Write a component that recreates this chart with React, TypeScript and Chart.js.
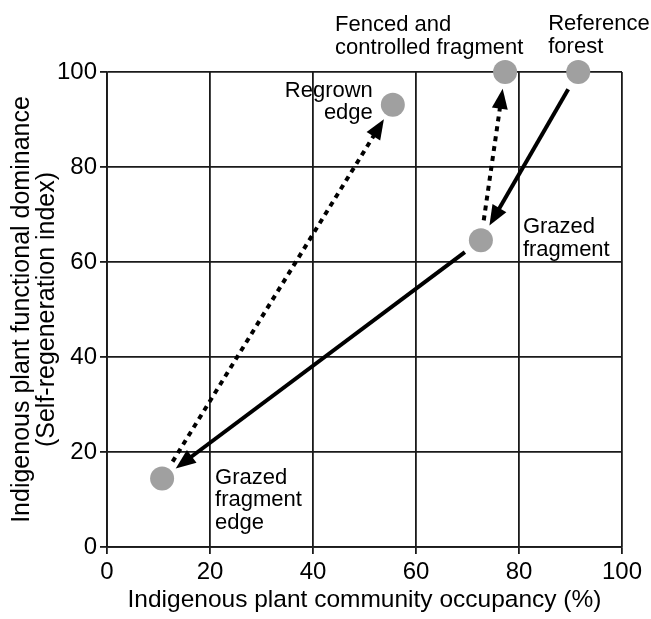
import { useEffect, useRef } from "react";
import { Chart, registerables } from "chart.js";

Chart.register(...registerables);

// ---- data ----
const pointNames = [
  "Reference forest",
  "Fenced and controlled fragment",
  "Regrown edge",
  "Grazed fragment",
  "Grazed fragment edge",
];
const occupancy = [91.5, 77.3, 55.5, 72.6, 10.7];
const dominance = [100, 100, 93.1, 64.6, 14.4];
const labelLines = [
  ["Reference", "forest"],
  ["Fenced and", "controlled fragment"],
  ["Regrown", "edge"],
  ["Grazed", "fragment"],
  ["Grazed", "fragment", "edge"],
];
const arrowFrom = [0, 3, 4, 3];
const arrowTo = [3, 4, 2, 1];
const arrowDashed = [false, false, true, true];
const xTickValues = [0, 20, 40, 60, 80, 100];
const yTickValues = [0, 20, 40, 60, 80, 100];
const xTitle = "Indigenous plant community occupancy (%)";
const yTitle = ["Indigenous plant functional dominance", "(Self-regeneration index)"];

// ---- styles ----
const FONT = "'Liberation Sans', Arial, Helvetica, sans-serif";
const GRID = "#1a1a1a";
const labelStyle = [
  { dx: -30, dy: -42, align: "left" },
  { dx: -170, dy: -41, align: "left" },
  { dx: -20, dy: -8, align: "right" },
  { dx: 42, dy: -7, align: "left" },
  { dx: 53, dy: 5, align: "left" },
];
const LABEL_LINE = 22.5;
const START_GAP = 20;
const END_GAP = 17;
const HEAD_LEN = 20;
const HEAD_HW = 8;

const overlay = {
  id: "overlay",
  afterDatasetsDraw(chart: any) {
    const ctx = chart.ctx;
    const xs = chart.scales.x;
    const ys = chart.scales.y;
    arrowFrom.forEach((f, i) => {
      const t = arrowTo[i];
      const x1 = xs.getPixelForValue(occupancy[f]);
      const y1 = ys.getPixelForValue(dominance[f]);
      const x2 = xs.getPixelForValue(occupancy[t]);
      const y2 = ys.getPixelForValue(dominance[t]);
      const dx = x2 - x1;
      const dy = y2 - y1;
      const len = Math.hypot(dx, dy);
      const ux = dx / len;
      const uy = dy / len;
      const sx = x1 + ux * START_GAP;
      const sy = y1 + uy * START_GAP;
      const tx = x2 - ux * END_GAP;
      const ty = y2 - uy * END_GAP;
      const bx = tx - ux * HEAD_LEN;
      const by = ty - uy * HEAD_LEN;
      ctx.save();
      ctx.strokeStyle = "#000";
      ctx.fillStyle = "#000";
      ctx.lineWidth = 4;
      ctx.lineCap = "butt";
      ctx.setLineDash(arrowDashed[i] ? [5, 5] : []);
      ctx.beginPath();
      ctx.moveTo(sx, sy);
      ctx.lineTo(bx + ux * 3, by + uy * 3);
      ctx.stroke();
      ctx.setLineDash([]);
      ctx.beginPath();
      ctx.moveTo(tx, ty);
      ctx.lineTo(bx - uy * HEAD_HW, by + ux * HEAD_HW);
      ctx.lineTo(bx + uy * HEAD_HW, by - ux * HEAD_HW);
      ctx.closePath();
      ctx.fill();
      ctx.restore();
    });
  },
  afterDraw(chart: any) {
    const ctx = chart.ctx;
    const xs = chart.scales.x;
    const ys = chart.scales.y;
    ctx.save();
    ctx.font = `22px ${FONT}`;
    ctx.fillStyle = "#000";
    ctx.textBaseline = "alphabetic";
    labelLines.forEach((lines, i) => {
      const st = labelStyle[i];
      const px = xs.getPixelForValue(occupancy[i]) + st.dx;
      const py = ys.getPixelForValue(dominance[i]) + st.dy;
      ctx.textAlign = st.align;
      lines.forEach((line, j) => {
        ctx.fillText(line, px, py + j * LABEL_LINE);
      });
    });
    ctx.restore();
  },
};

export default function App() {
  const ref = useRef<HTMLCanvasElement>(null);
  useEffect(() => {
    document.body.style.margin = "0";
    if (!ref.current) return;
    const chart = new Chart(ref.current, {
      type: "scatter",
      data: {
        datasets: [
          {
            label: "Sites",
            data: occupancy.map((x, i) => ({ x, y: dominance[i], name: pointNames[i] })),
            pointRadius: 12,
            pointHoverRadius: 12,
            backgroundColor: "#a0a0a0",
            borderWidth: 0,
            clip: false as any,
          },
        ],
      },
      options: {
        animation: false,
        responsive: false,
        devicePixelRatio: 1,
        layout: { padding: { top: 72, right: 29, left: 0, bottom: 0 } },
        plugins: { legend: { display: false }, tooltip: { enabled: false } },
        scales: {
          x: {
            type: "linear",
            min: 0,
            max: 100,
            afterBuildTicks: (s: any) => {
              s.ticks = xTickValues.map((v) => ({ value: v }));
            },
            afterFit: (s: any) => {
              s.height = 72;
            },
            ticks: { color: "#000", font: { family: FONT, size: 24 }, padding: 4 },
            grid: { color: GRID, lineWidth: 1.8, tickLength: 7 },
            border: { color: GRID, width: 1.8 },
            title: {
              display: true,
              text: xTitle,
              color: "#000",
              font: { family: FONT, size: 24.5 },
              padding: { top: 0, bottom: 4 },
            },
          },
          y: {
            type: "linear",
            min: 0,
            max: 100,
            afterBuildTicks: (s: any) => {
              s.ticks = yTickValues.map((v) => ({ value: v }));
            },
            afterFit: (s: any) => {
              s.width = 107;
            },
            ticks: { color: "#000", font: { family: FONT, size: 24 }, padding: 3 },
            grid: { color: GRID, lineWidth: 1.8, tickLength: 7 },
            border: { color: GRID, width: 1.8 },
            title: {
              display: true,
              text: yTitle,
              color: "#000",
              font: { family: FONT, size: 25, lineHeight: 1.0 },
              padding: { top: 9.5, bottom: 0 },
            },
          },
        },
      },
      plugins: [overlay],
    });
    return () => chart.destroy();
  }, []);
  return (
    <div style={{ width: 651, height: 619 }}>
      <canvas ref={ref} width={651} height={619} />
    </div>
  );
}
